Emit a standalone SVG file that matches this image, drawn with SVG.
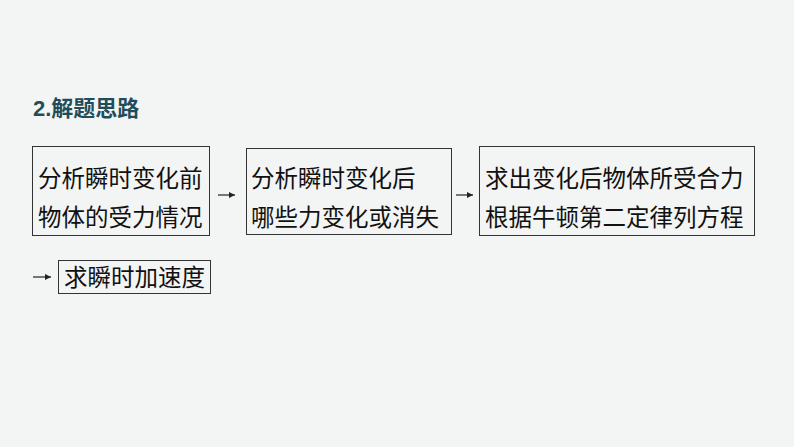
<svg xmlns="http://www.w3.org/2000/svg" width="794" height="447" viewBox="0 0 794 447">
<style>
.b{fill:none;stroke:#333;stroke-width:1}
.t{font-family:"Liberation Sans","Noto Sans CJK SC",sans-serif;font-size:23.5px;fill:#111}
.a{stroke:#222;stroke-width:1.2;fill:none}
</style>
<defs><marker id="m" markerWidth="6" markerHeight="6" refX="5" refY="3" orient="auto"><path d="M0,0.5 L5,3 L0,5.5z" fill="#222"/></marker></defs>
<rect width="794" height="447" fill="#f3f4f4"/>
<text x="33" y="116" font-family="Liberation Sans,'Noto Sans CJK SC',sans-serif" font-size="22" font-weight="bold" fill="#1f4e5a">2.解题思路</text>
<g id="n1"><rect class="b" x="32.5" y="146.5" width="177" height="89"/><text class="t" x="38" y="187">分析瞬时变化前</text><text class="t" x="38" y="226">物体的受力情况</text></g>
<g id="n2"><rect class="b" x="246.5" y="148.5" width="205" height="86"/><text class="t" x="251" y="187">分析瞬时变化后</text><text class="t" x="251" y="226">哪些力变化或消失</text></g>
<g id="n3"><rect class="b" x="479.5" y="146.5" width="275" height="89"/><text class="t" x="485" y="187">求出变化后物体所受合力</text><text class="t" x="485" y="226">根据牛顿第二定律列方程</text></g>
<g id="n4"><rect class="b" x="58.5" y="260.5" width="152" height="33"/><text class="t" x="64" y="286">求瞬时加速度</text></g>
<g id="c"><line class="a" x1="218" y1="195" x2="235" y2="195" marker-end="url(#m)"/><line class="a" x1="456" y1="195" x2="473" y2="195" marker-end="url(#m)"/><line class="a" x1="33" y1="277" x2="51" y2="277" marker-end="url(#m)"/></g>
</svg>
